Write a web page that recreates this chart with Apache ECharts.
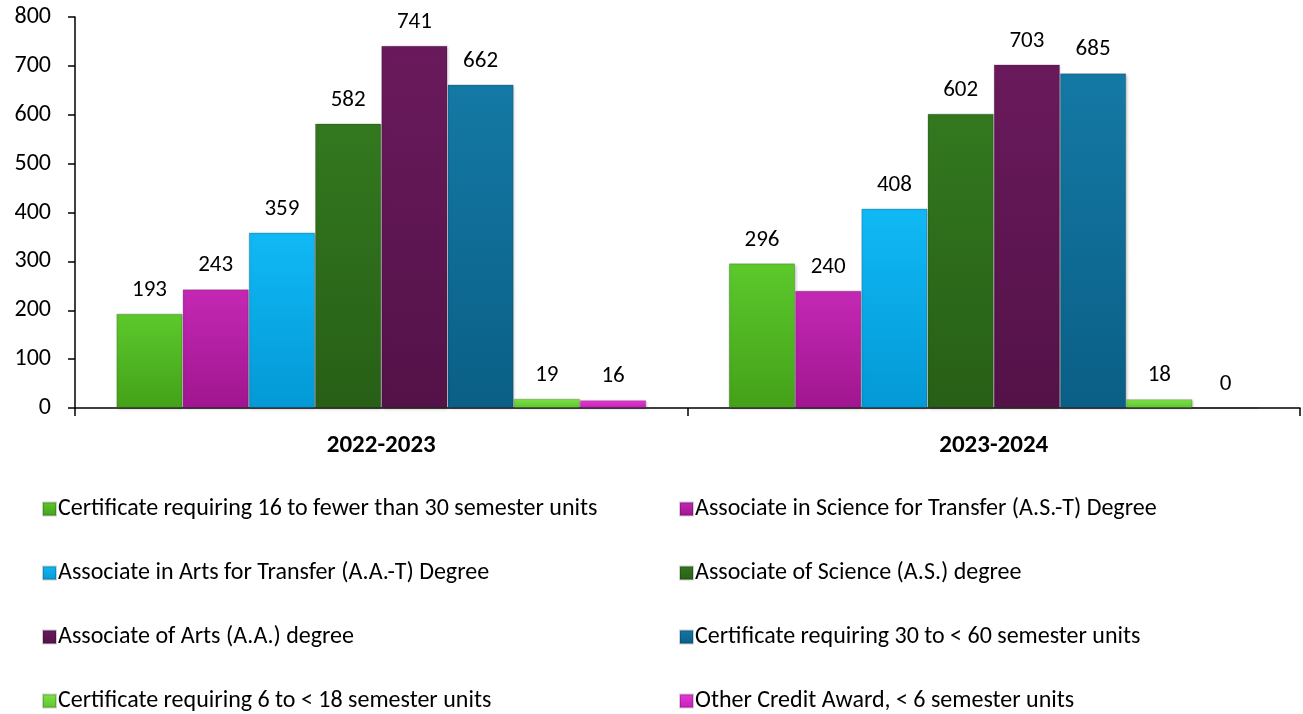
<!DOCTYPE html>
<html>
<head>
<meta charset="utf-8">
<script src="https://cdn.jsdelivr.net/npm/echarts@6/dist/echarts.min.js"></script>
<style>
html,body{margin:0;padding:0;background:#fff;}
#chart{width:1303px;height:714px;}
</style>
</head>
<body>
<div id="chart"></div>
<script>
// 年度
const years = ['2022-2023', '2023-2024']
// 系列名称
const seriesNames = [
    'Certificate requiring 16 to fewer than 30 semester units',
    'Associate in Science for Transfer (A.S.-T) Degree',
    'Associate in Arts for Transfer (A.A.-T) Degree',
    'Associate of Science (A.S.) degree',
    'Associate of Arts (A.A.) degree',
    'Certificate requiring 30 to < 60 semester units',
    'Certificate requiring 6 to < 18 semester units',
    'Other Credit Award, < 6 semester units'
]
// 各系列数值
const cert16to30 = [193, 296]
const ast = [243, 240]
const aat = [359, 408]
const asDeg = [582, 602]
const aaDeg = [741, 703]
const cert30to60 = [662, 685]
const cert6to18 = [19, 18]
const otherCredit = [16, 0]
const seriesValues = [cert16to30, ast, aat, asDeg, aaDeg, cert30to60, cert6to18, otherCredit]
// y轴刻度
const yTicks = [0, 100, 200, 300, 400, 500, 600, 700, 800]

const colors = [
    ['#5cc92c', '#44a119'],
    ['#c428b4', '#a0168f'],
    ['#10b9f5', '#0399d6'],
    ['#33781f', '#275f16'],
    ['#6a1a5c', '#531248'],
    ['#1479a5', '#0a5f86'],
    ['#7ee447', '#5cc52e'],
    ['#e63ad6', '#c81fb9']
]
const font = 'Calibri, Carlito, "Liberation Sans", "Noto Sans", sans-serif'

const chart = echarts.init(document.getElementById('chart'))

const series = seriesValues.map((vals, i) => {
    return {
        name: seriesNames[i],
        type: 'bar',
        data: vals,
        barGap: '0%',
        barCategoryGap: '13.5%',
        itemStyle: {
            color: new echarts.graphic.LinearGradient(0, 0, 0, 1, [
                {offset: 0, color: colors[i][0]},
                {offset: 1, color: colors[i][1]}
            ]),
            borderColor: 'rgba(0,0,0,0.18)',
            borderWidth: 1,
            shadowColor: 'rgba(0,0,0,0.25)',
            shadowBlur: 3,
            shadowOffsetX: 1,
            shadowOffsetY: 1
        },
        label: {
            show: true,
            position: 'top',
            distance: 12,
            color: '#000',
            fontSize: 23,
            fontFamily: font
        }
    }
})

const legendBase = {
    orient: 'vertical',
    top: 492,
    height: 222,
    itemGap: 40,
    itemWidth: 13,
    itemHeight: 13,
    icon: 'rect',
    textStyle: {fontSize: 24, color: '#000', fontFamily: font, padding: [0, 0, 0, -3]}
}

chart.setOption({
    animation: false,
    color: colors.map(c => c[0]),
    grid: {left: 75, right: 3, top: 17, bottom: 306},
    legend: [
        Object.assign({left: 37, data: [seriesNames[0], seriesNames[2], seriesNames[4], seriesNames[6]]}, legendBase),
        Object.assign({left: 674, data: [seriesNames[1], seriesNames[3], seriesNames[5], seriesNames[7]]}, legendBase)
    ],
    xAxis: {
        type: 'category',
        data: years,
        axisLine: {lineStyle: {color: '#000', width: 1.5}},
        axisTick: {show: true, length: 8, lineStyle: {color: '#000', width: 1.5}},
        axisLabel: {
            color: '#000',
            fontSize: 25,
            fontWeight: 'bold',
            fontFamily: font,
            margin: 25
        }
    },
    yAxis: {
        type: 'value',
        min: yTicks[0],
        max: yTicks[yTicks.length - 1],
        interval: 100,
        axisLine: {show: true, lineStyle: {color: '#000', width: 1.5}},
        axisTick: {show: true, length: 7, lineStyle: {color: '#000', width: 1.5}},
        splitLine: {show: false},
        axisLabel: {color: '#000', fontSize: 24, fontFamily: font, margin: 24}
    },
    series: series
})
</script>
</body>
</html>
